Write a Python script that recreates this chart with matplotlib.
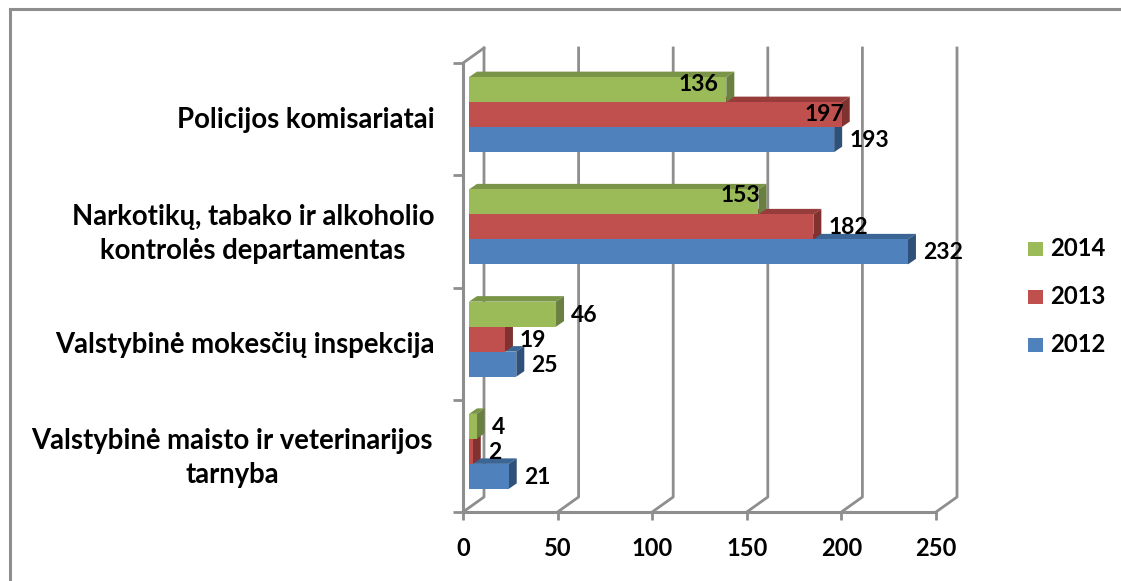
import matplotlib
matplotlib.use("Agg")
import matplotlib.pyplot as plt
from matplotlib.patches import Polygon

categories = ["Valstybinė maisto ir veterinarijos\ntarnyba",
              "Valstybinė mokesčių inspekcija",
              "Narkotikų, tabako ir alkoholio\nkontrolės departamentas",
              "Policijos komisariatai"]
years = ["2012", "2013", "2014"]
v2012 = [21, 25, 232, 193]
v2013 = [2, 19, 182, 197]
v2014 = [4, 46, 153, 136]
xticks = [0, 50, 100, 150, 200, 250]

front = ["#4f81bd", "#c0504d", "#9bbb59"]
top_c = ["#3a6595", "#963c3a", "#7a9448"]
side_c = ["#2f5079", "#7f3230", "#6a8040"]

W, H = 1121, 581
plt.rcParams["font.family"] = ["Lato", "DejaVu Sans"]
plt.rcParams["font.weight"] = "bold"

fig = plt.figure(figsize=(W / 100, H / 100), dpi=100)
# pixel box of the axes: 0..250 is 463..936, y 63..512
ax = fig.add_axes([463 / W, 1 - 512 / H, (936 - 463) / W, (512 - 63) / H])
ax.set_xlim(0, 250)
ax.set_ylim(0, 4)
ax.set_facecolor("none")

px = 250 / (936 - 463)
py = 4 / (512 - 63)
dep_x, dep_y = 21 * px, 15 * py      # depth of the floor
bar_dx, bar_dy = 8 * px, 5.5 * py    # depth of a bar
start = 6 * px
bar_h = 25 * py
gray = "#8e8e8e"

# walls
for t in xticks:
    ax.plot([t, t + dep_x, t + dep_x], [0, dep_y, 4 + dep_y], color=gray, lw=2.0, clip_on=False, zorder=1)
ax.plot([0, dep_x], [4, 4 + dep_y], color=gray, lw=2.0, clip_on=False, zorder=1)
ax.plot([0, 0], [0, 4], color=gray, lw=2.2, clip_on=False, zorder=2)
ax.plot([0, 250], [0, 0], color=gray, lw=2.2, clip_on=False, zorder=2)

# labels that sit inside a bar, nudged by hand (px right, px up)
inside = {136: (-8, 5), 197: (2, 0), 153: (2, 6)}

# each box rests on the one below it, so blue goes first
series = [v2012, v2013, v2014]
for c in range(len(categories)):
    base = c + 0.5 - 1.5 * bar_h + 4.5 * py
    for s in [0, 1, 2]:
        v = series[s][c]
        y0 = base + s * bar_h
        z = 5 + s
        ax.add_patch(Polygon([(start, y0 + bar_h), (start + bar_dx, y0 + bar_h + bar_dy),
                              (start + v + bar_dx, y0 + bar_h + bar_dy), (start + v, y0 + bar_h)],
                             closed=True, color=top_c[s], lw=0, zorder=z))
        ax.add_patch(Polygon([(start + v, y0), (start + v + bar_dx, y0 + bar_dy),
                              (start + v + bar_dx, y0 + bar_h + bar_dy), (start + v, y0 + bar_h)],
                             closed=True, color=side_c[s], lw=0, zorder=z))
        ax.barh(y0, v, bar_h, left=start, align="edge", color=front[s], lw=0, zorder=z)
        if v in inside:
            nx, ny = inside[v]
            ax.text(start + v + nx * px, y0 + bar_h / 2 + ny * py, str(v), fontsize=16.5, ha="right", va="center",
                    color="black", zorder=40)
        else:
            ax.text(start + v + 15 * px, y0 + bar_h / 2 - 1 * py, str(v), fontsize=16.5, ha="left", va="center",
                    color="black", zorder=40, clip_on=False)

ax.set_xticks(xticks)
ax.set_yticks(range(5))
ax.set_yticklabels([])
ax.tick_params(axis="x", length=6, width=2, color=gray, labelsize=17, pad=12)
ax.tick_params(axis="y", length=7, width=2, color=gray)
for sp in ax.spines.values():
    sp.set_visible(False)

# category labels, centres read in px from the picture
label_x = [232, 245, 253, 306]
label_y = [458, 345, 234, 120]
for name, lx, ly in zip(categories, label_x, label_y):
    fig.text(lx / W, 1 - ly / H, name, ha="center", va="center", fontsize=19.8, linespacing=1.42, color="black")

# legend
for s, y in zip([2, 1, 0], [249, 297, 345]):
    fig.add_artist(plt.Rectangle((1028 / W, 1 - (y + 7) / H), 15 / W, 14 / H, transform=fig.transFigure,
                                 color=front[s], lw=0))
    fig.text(1050 / W, 1 - y / H, years[s], fontsize=17.2, ha="left", va="center", color="black")

# chart frame
fig.add_artist(plt.Line2D([9.5 / W, 9.5 / W], [0, 1 - 8.5 / H], color=gray, lw=2.2))
fig.add_artist(plt.Line2D([9.5 / W, 1], [1 - 8.5 / H, 1 - 8.5 / H], color=gray, lw=2.2))

fig.savefig("out.png", dpi=100)
